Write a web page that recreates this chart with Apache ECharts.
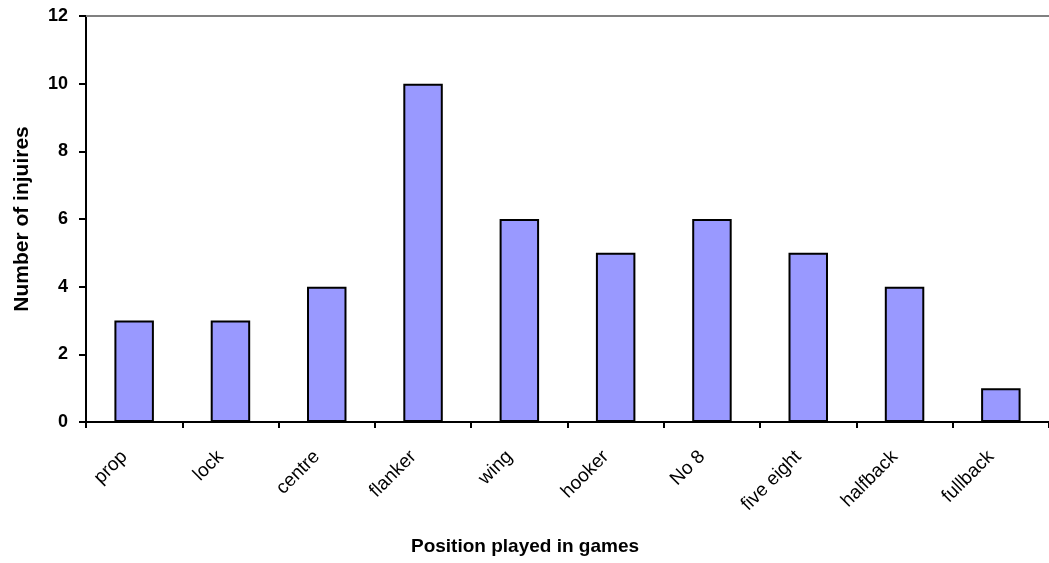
<!DOCTYPE html>
<html>
<head>
<meta charset="utf-8">
<script src="https://cdn.jsdelivr.net/npm/echarts@6/dist/echarts.min.js"></script>
<style>
  html, body { margin: 0; padding: 0; background: #fff; }
  #chart { width: 1049px; height: 563px; }
</style>
</head>
<body>
<div id="chart"></div>
<script>
const positions = ['prop', 'lock', 'centre', 'flanker', 'wing', 'hooker', 'No 8', 'five eight', 'halfback', 'fullback'];
const injuries = [3, 3, 4, 10, 6, 5, 6, 5, 4, 1];

const font = 'Liberation Sans, Arial, sans-serif';
const chart = echarts.init(document.getElementById('chart'));

const option = {
    animation: false,
    title: {
        text: 'Position played in games',
        left: 520,
        top: 532,
        textAlign: 'center',
        textStyle: { fontFamily: font, fontSize: 19, fontWeight: 'bold', color: '#000' }
    },
    grid: { left: 86, right: -5, top: 16, bottom: 141, containLabel: false },
    xAxis: [{
        type: 'category',
        data: positions,
        axisLine: { lineStyle: { color: '#000', width: 2 } },
        axisTick: { show: true, interval: 0, length: 6, lineStyle: { color: '#000', width: 2 } },
        axisLabel: {
            interval: 0, rotate: 45, margin: 22, padding: [0, 14, 0, 0],
            fontFamily: font, fontSize: 19, color: '#000'
        }
    }, {
        type: 'category',
        position: 'top',
        data: positions,
        axisLine: { lineStyle: { color: '#808080', width: 2 } },
        axisTick: { show: false },
        axisLabel: { show: false }
    }],
    yAxis: {
        type: 'value',
        min: 0,
        max: 12,
        interval: 2,
        name: 'Number of injuires',
        nameLocation: 'middle',
        nameGap: 53,
        nameTextStyle: { fontFamily: font, fontSize: 21, fontWeight: 'bold', color: '#000' },
        axisLine: { show: true, lineStyle: { color: '#000', width: 2 } },
        axisTick: { show: true, length: 7, lineStyle: { color: '#000', width: 2 } },
        axisLabel: { margin: 18, fontFamily: font, fontSize: 18, fontWeight: 'bold', color: '#000' },
        splitLine: { show: false }
    },
    series: [{
        type: 'bar',
        data: injuries,
        barWidth: '41%',
        itemStyle: { color: '#9999FF', borderColor: '#000', borderWidth: 2 }
    }]
};
chart.setOption(option);
</script>
</body>
</html>
